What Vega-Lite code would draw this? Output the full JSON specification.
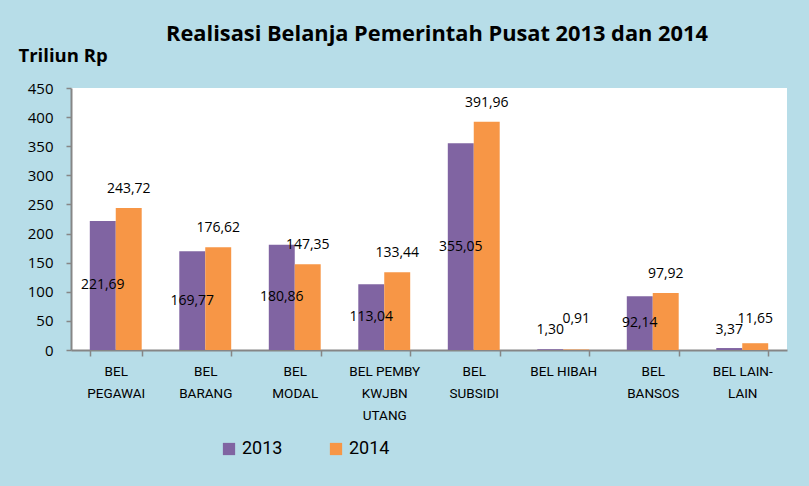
{
  "$schema": "https://vega.github.io/schema/vega-lite/v6.json",
  "width": 716,
  "height": 262,
  "autosize": {"type": "none"},
  "padding": {"left": 71, "top": 88, "right": 22, "bottom": 136},
  "background": "#b7dde8",
  "title": {
    "text": "Realisasi Belanja Pemerintah Pusat 2013 dan 2014",
    "font": "Open Sans",
    "fontSize": 21.8,
    "fontWeight": "bold",
    "color": "#000000",
    "anchor": "middle",
    "frame": "group",
    "dx": 8,
    "offset": 0
  },
  "config": {
    "view": {"fill": "white", "stroke": null},
    "locale": {
      "number": {"decimal": ",", "thousands": ".", "grouping": [3], "currency": ["Rp", ""]}
    },
    "axisY": {
      "labelOverlap": false,
      "grid": false,
      "labelFont": "Open Sans",
      "labelFontSize": 15,
      "labelColor": "#000000",
      "labelPadding": 13,
      "tickSize": 5,
      "tickColor": "#868686",
      "tickWidth": 1.5,
      "domainColor": "#868686",
      "domainWidth": 2,
      "titleAngle": 0,
      "titleX": -53,
      "titleY": -33,
      "titleAlign": "left",
      "titleBaseline": "middle",
      "titleFont": "Open Sans",
      "titleFontSize": 18.5,
      "titleFontWeight": "bold",
      "titleColor": "#000000"
    }
  },
  "data": {
    "values": [
      {"kategori": "BEL|PEGAWAI", "tahun": "2013", "nilai": 221.69},
      {"kategori": "BEL|PEGAWAI", "tahun": "2014", "nilai": 243.72},
      {"kategori": "BEL|BARANG", "tahun": "2013", "nilai": 169.77},
      {"kategori": "BEL|BARANG", "tahun": "2014", "nilai": 176.62},
      {"kategori": "BEL|MODAL", "tahun": "2013", "nilai": 180.86},
      {"kategori": "BEL|MODAL", "tahun": "2014", "nilai": 147.35},
      {"kategori": "BEL PEMBY|KWJBN|UTANG", "tahun": "2013", "nilai": 113.04},
      {"kategori": "BEL PEMBY|KWJBN|UTANG", "tahun": "2014", "nilai": 133.44},
      {"kategori": "BEL|SUBSIDI", "tahun": "2013", "nilai": 355.05},
      {"kategori": "BEL|SUBSIDI", "tahun": "2014", "nilai": 391.96},
      {"kategori": "BEL HIBAH", "tahun": "2013", "nilai": 1.30},
      {"kategori": "BEL HIBAH", "tahun": "2014", "nilai": 0.91},
      {"kategori": "BEL|BANSOS", "tahun": "2013", "nilai": 92.14},
      {"kategori": "BEL|BANSOS", "tahun": "2014", "nilai": 97.92},
      {"kategori": "BEL LAIN-|LAIN", "tahun": "2013", "nilai": 3.37},
      {"kategori": "BEL LAIN-|LAIN", "tahun": "2014", "nilai": 11.65}
    ]
  },
  "encoding": {
    "x": {
      "field": "kategori",
      "type": "nominal",
      "sort": null,
      "scale": {"paddingInner": 0.42, "paddingOuter": 0.21},
      "axis": {
        "title": null,
        "labelAngle": 0,
        "labelExpr": "isValid(datum.value) ? split(datum.value, '|') : ''",
        "labelFont": "Roboto",
        "labelFontSize": 13.5,
        "labelColor": "#000000",
        "labelLineHeight": 22,
        "labelPadding": 8,
        "labelBaseline": "top",
        "tickBand": "extent",
        "tickSize": 6,
        "tickColor": "#868686",
        "tickWidth": 1.5,
        "domainColor": "#868686",
        "domainWidth": 2
      }
    },
    "xOffset": {"field": "tahun", "type": "nominal"},
    "color": {
      "field": "tahun",
      "type": "nominal",
      "scale": {"domain": ["2013", "2014"], "range": ["#8064a2", "#f79646"]},
      "legend": {
        "title": null,
        "orient": "none",
        "direction": "horizontal",
        "legendX": 149,
        "legendY": 352,
        "symbolType": "square",
        "symbolSize": 150,
        "symbolStrokeWidth": 0,
        "labelFont": "Roboto",
        "labelFontSize": 18,
        "labelColor": "#000000",
        "labelOffset": 4,
        "columnPadding": 44
      }
    }
  },
  "layer": [
    {
      "mark": {"type": "bar"},
      "encoding": {
        "y": {
          "field": "nilai",
          "type": "quantitative",
          "scale": {"domain": [0, 450], "nice": false},
          "axis": {
            "values": [0, 50, 100, 150, 200, 250, 300, 350, 400, 450],
            "title": "Triliun Rp"
          }
        }
      }
    },
    {
      "transform": [
        {"filter": "datum.tahun == '2013'"},
        {"calculate": "max(datum.nilai / 2, 34)", "as": "posisi"}
      ],
      "mark": {"type": "text", "font": "Open Sans", "fontSize": 14, "color": "#000000", "baseline": "middle"},
      "encoding": {
        "y": {
          "field": "posisi",
          "type": "quantitative",
          "axis": {
            "values": [0, 50, 100, 150, 200, 250, 300, 350, 400, 450],
            "title": "Triliun Rp"
          }
        },
        "text": {"field": "nilai", "type": "quantitative", "format": ".2f"},
        "color": {"value": "#000000"}
      }
    },
    {
      "transform": [
        {"filter": "datum.tahun == '2014'"},
        {"calculate": "max(datum.nilai, 20)", "as": "posisi"}
      ],
      "mark": {"type": "text", "font": "Open Sans", "fontSize": 14, "color": "#000000", "baseline": "middle", "dy": -19},
      "encoding": {
        "y": {
          "field": "posisi",
          "type": "quantitative",
          "axis": {
            "values": [0, 50, 100, 150, 200, 250, 300, 350, 400, 450],
            "title": "Triliun Rp"
          }
        },
        "text": {"field": "nilai", "type": "quantitative", "format": ".2f"},
        "color": {"value": "#000000"}
      }
    }
  ]
}
